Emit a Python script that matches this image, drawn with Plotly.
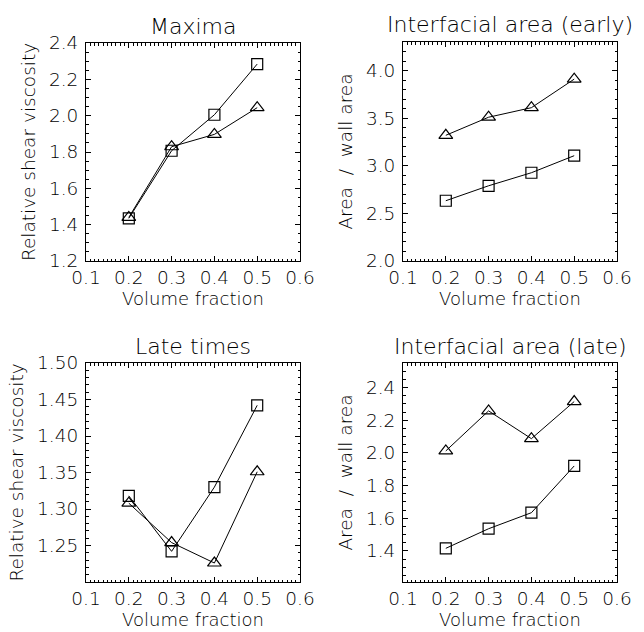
import plotly.graph_objects as go

vol_fraction = [0.2, 0.3, 0.4, 0.5]

# Maxima
max_sq = [1.435, 1.807, 2.005, 2.284]
max_tri = [1.44, 1.829, 1.897, 2.044]
# Interfacial area (early)
early_tri = [3.32, 3.51, 3.61, 3.91]
early_sq = [2.633, 2.79, 2.927, 3.106]
# Late times
late_sq = [1.318, 1.242, 1.330, 1.442]
late_tri = [1.308, 1.254, 1.226, 1.351]
# Interfacial area (late)
latea_tri = [2.012, 2.257, 2.087, 2.314]
latea_sq = [1.416, 1.536, 1.634, 1.92]

x_ticks = [0.1, 0.2, 0.3, 0.4, 0.5, 0.6]
titles = ["Maxima", "Interfacial area (early)", "Late times", "Interfacial area (late)"]
ytitles = ["Relative shear viscosity", "Area  /  wall area",
           "Relative shear viscosity", "Area  /  wall area"]

W, H = 644, 632
boxes = [(86, 300, 43, 261), (403, 617, 42, 261), (86, 300, 363, 582), (403, 617, 363, 582)]

FONT = "DejaVu Sans"
TXT = "#000000"
WT = 200

fig = go.Figure()

panels = [
    (max_sq, max_tri, [1.2, 2.4], [1.2, 1.4, 1.6, 1.8, 2.0, 2.2, 2.4], ".1f", 1.2, 0.05),
    (early_sq, early_tri, [2.0, 4.3], [2.0, 2.5, 3.0, 3.5, 4.0], ".1f", 2.0, 0.1),
    (late_sq, late_tri, [1.2, 1.5], [1.25, 1.30, 1.35, 1.40, 1.45, 1.50], ".2f", 1.2, 0.01),
    (latea_sq, latea_tri, [1.21, 2.55], [1.4, 1.6, 1.8, 2.0, 2.2, 2.4], ".1f", 1.2, 0.05),
]

layout = dict(width=W, height=H, margin=dict(l=0, r=0, t=0, b=0), template="none",
              paper_bgcolor="white", plot_bgcolor="white", showlegend=False,
              font=dict(family=FONT, color=TXT, size=18, weight=WT))
annotations = []

for i, (sq, tri, yr, yt, yfmt, y0, ydm) in enumerate(panels):
    n = "" if i == 0 else str(i + 1)
    xa, ya = "x" + n, "y" + n
    x0, x1, yt0, yb = boxes[i]
    fig.add_trace(go.Scatter(x=vol_fraction, y=sq, xaxis=xa, yaxis=ya, mode="lines+markers",
                             line=dict(color="black", width=1),
                             marker=dict(symbol="square-open", size=11, color="black",
                                         line=dict(width=1.2, color="black"))))
    fig.add_trace(go.Scatter(x=vol_fraction, y=tri, xaxis=xa, yaxis=ya, mode="lines+markers",
                             line=dict(color="black", width=1),
                             marker=dict(symbol="triangle-up-open", size=12, color="black",
                                         line=dict(width=1.2, color="black"))))
    common = dict(showline=True, linecolor="black", linewidth=1, mirror="allticks",
                  ticks="inside", ticklen=5, tickwidth=1, tickcolor="black",
                  showgrid=False, zeroline=False, automargin=False,
                  tickfont=dict(family=FONT, size=18.5, color=TXT, weight=WT))
    layout["xaxis" + n] = dict(common, domain=[x0 / W, x1 / W], anchor=ya, range=[0.1, 0.6],
                               tickvals=x_ticks, tickformat=".1f", ticklabelstandoff=0,
                               minor=dict(ticks="inside", ticklen=2.5, tickcolor="black",
                                          dtick=0.01, tick0=0.1, showgrid=False),
                               title=dict(text="Volume fraction", standoff=0,
                                          font=dict(family=FONT, size=18, color=TXT, weight=WT)))
    layout["yaxis" + n] = dict(common, domain=[1 - yb / H, 1 - yt0 / H], anchor=xa, range=yr,
                               tickvals=yt, tickformat=yfmt, ticklabelstandoff=3,
                               minor=dict(ticks="inside", ticklen=2.5, tickcolor="black",
                                          dtick=ydm, tick0=y0, showgrid=False),
                               title=dict(text=ytitles[i], standoff=8,
                                          font=dict(family=FONT, size=18.5, color=TXT, weight=WT)))
    annotations.append(dict(text=titles[i], x=(x0 + x1) / 2 / W, y=1 - (yt0 - 17) / H,
                            xref="paper", yref="paper", showarrow=False,
                            xanchor="center", yanchor="middle",
                            font=dict(family=FONT, size=22, color=TXT, weight=WT)))

layout["annotations"] = annotations
fig.update_layout(**layout)
fig.write_html("out.html")
